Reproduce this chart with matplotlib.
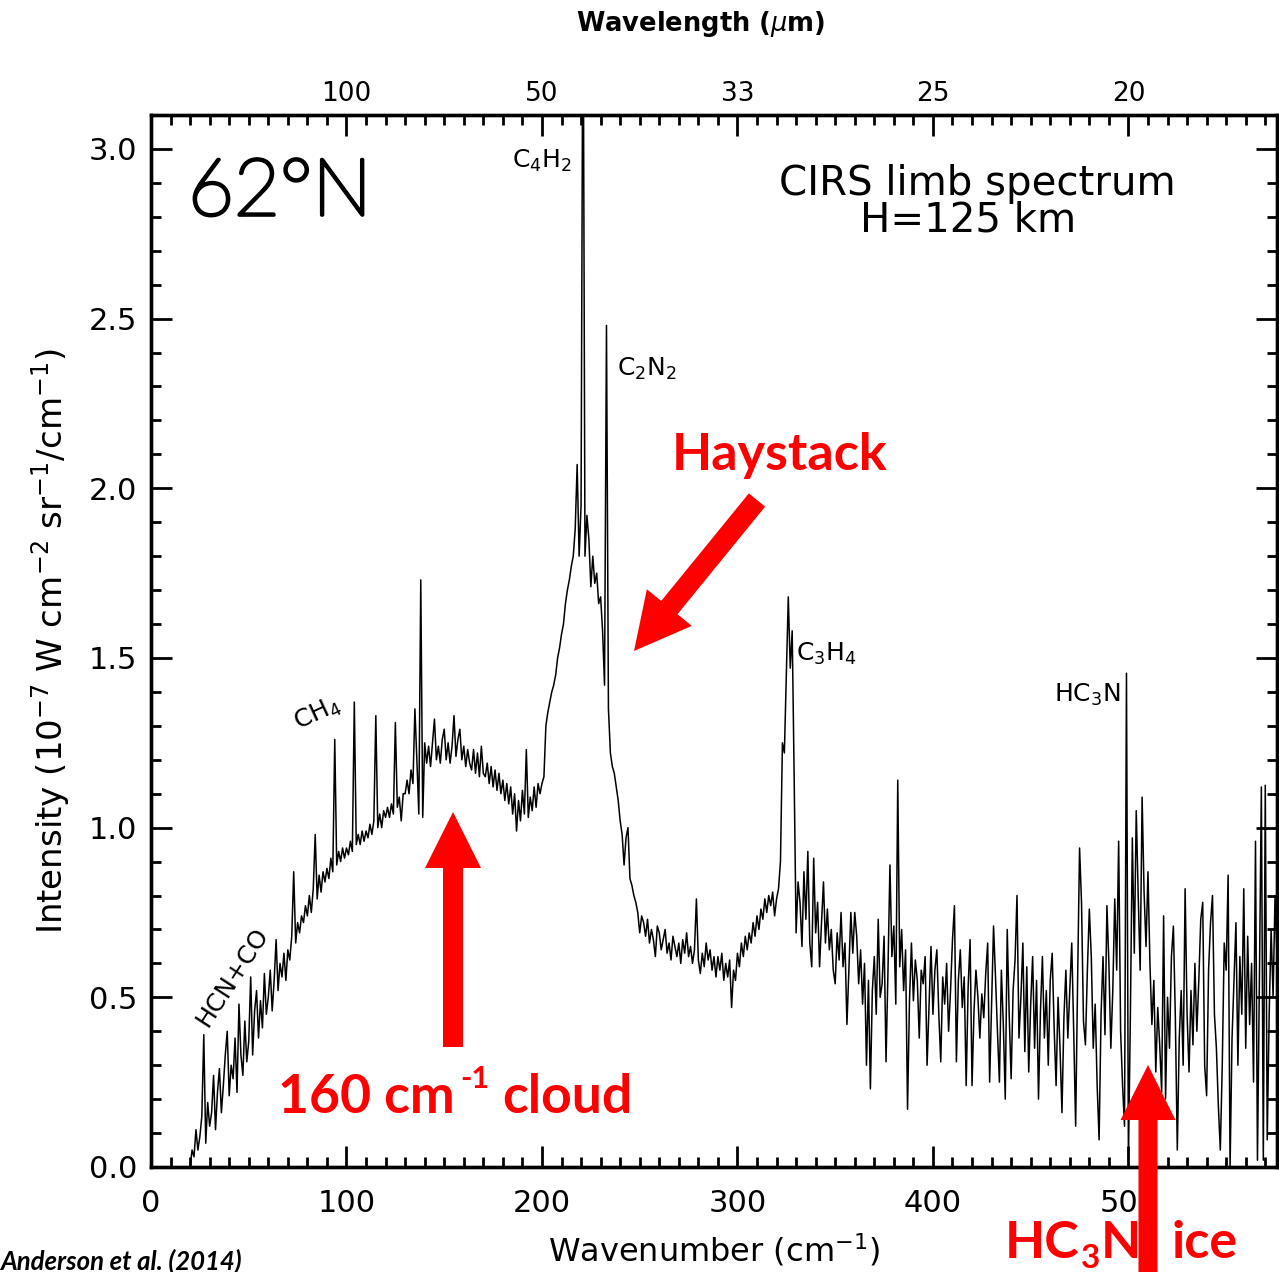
import numpy as np
import matplotlib
matplotlib.use("Agg")
import matplotlib.pyplot as plt
import matplotlib.patheffects as pe
from matplotlib.patches import FancyArrow
from matplotlib.ticker import MultipleLocator, FormatStrFormatter

# ---------------- data ----------------
# wavenumber grid 20..577 cm^-1, 1 cm^-1 sampling
wavenumber = np.arange(20, 578)

intensity = [
    # 20-29
    0.00, 0.05, 0.03, 0.11, 0.05, 0.09, 0.15, 0.39, 0.07, 0.19,
    # 30-39
    0.12, 0.16, 0.27, 0.11, 0.22, 0.29, 0.16, 0.24, 0.33, 0.40,
    # 40-49
    0.21, 0.30, 0.26, 0.38, 0.22, 0.48, 0.33, 0.27, 0.43, 0.31,
    # 50-59
    0.37, 0.56, 0.33, 0.46, 0.52, 0.38, 0.49, 0.41, 0.57, 0.45,
    # 60-69
    0.50, 0.58, 0.46, 0.55, 0.67, 0.52, 0.60, 0.56, 0.63, 0.55,
    # 70-79
    0.64, 0.61, 0.68, 0.87, 0.66, 0.72, 0.69, 0.74, 0.72, 0.77,
    # 80-89
    0.74, 0.80, 0.75, 0.82, 0.98, 0.79, 0.86, 0.81, 0.87, 0.84,
    # 90-99
    0.88, 0.85, 0.91, 0.87, 1.26, 0.89, 0.93, 0.90, 0.94, 0.91,
    # 100-109
    0.94, 0.92, 0.96, 0.93, 1.37, 0.95, 0.98, 0.95, 0.99, 0.96,
    # 110-119
    0.99, 0.97, 1.01, 0.98, 1.02, 1.33, 1.00, 1.04, 1.00, 1.05,
    # 120-129
    1.03, 1.06, 1.03, 1.07, 1.04, 1.31, 1.06, 1.09, 1.02, 1.10,
    # 130-139
    1.10, 1.14, 1.10, 1.17, 1.13, 1.35, 1.20, 1.04, 1.73, 1.03,
    # 140-149
    1.25, 1.19, 1.24, 1.18, 1.25, 1.32, 1.20, 1.24, 1.19, 1.26,
    # 150-159
    1.29, 1.20, 1.25, 1.19, 1.24, 1.33, 1.21, 1.26, 1.29, 1.20,
    # 160-169
    1.24, 1.18, 1.23, 1.19, 1.17, 1.23, 1.16, 1.22, 1.15, 1.24,
    # 170-179
    1.16, 1.15, 1.19, 1.13, 1.18, 1.12, 1.17, 1.11, 1.16, 1.10,
    # 180-189
    1.14, 1.08, 1.13, 1.07, 1.12, 1.04, 1.10, 0.99, 1.08, 1.02,
    # 190-199
    1.11, 1.04, 1.23, 1.03, 1.09, 1.05, 1.12, 1.06, 1.13, 1.10,
    # 200-209
    1.13, 1.15, 1.30, 1.34, 1.37, 1.40, 1.42, 1.45, 1.50, 1.53,
    # 210-219
    1.57, 1.60, 1.66, 1.70, 1.73, 1.77, 1.80, 1.88, 2.07, 1.80,
    # 220-229
    1.95, 3.60, 1.80, 1.92, 1.85, 1.71, 1.80, 1.72, 1.75, 1.66,
    # 230-239
    1.68, 1.58, 1.42, 2.48, 1.35, 1.22, 1.18, 1.16, 1.12, 1.08,
    # 240-249
    1.02, 0.98, 0.89, 0.97, 1.00, 0.85, 0.83, 0.80, 0.78, 0.75,
    # 250-259
    0.69, 0.74, 0.72, 0.68, 0.73, 0.66, 0.70, 0.67, 0.62, 0.71,
    # 260-269
    0.69, 0.64, 0.67, 0.70, 0.63, 0.66, 0.61, 0.68, 0.65, 0.62,
    # 270-279
    0.66, 0.60, 0.67, 0.63, 0.69, 0.62, 0.65, 0.60, 0.64, 0.79,
    # 280-289
    0.61, 0.57, 0.63, 0.59, 0.66, 0.61, 0.64, 0.58, 0.62, 0.56,
    # 290-299
    0.62, 0.58, 0.63, 0.55, 0.60, 0.56, 0.61, 0.47, 0.58, 0.55,
    # 300-309
    0.63, 0.59, 0.66, 0.62, 0.68, 0.64, 0.69, 0.66, 0.72, 0.68,
    # 310-319
    0.74, 0.70, 0.76, 0.73, 0.79, 0.75, 0.80, 0.77, 0.81, 0.74,
    # 320-329
    0.79, 0.82, 0.90, 1.25, 1.22, 1.45, 1.68, 1.47, 1.58, 1.15,
    # 330-339
    0.69, 0.84, 0.78, 0.65, 0.87, 0.73, 0.93, 0.66, 0.59, 0.91,
    # 340-349
    0.69, 0.78, 0.59, 0.72, 0.84, 0.66, 0.76, 0.64, 0.70, 0.58,
    # 350-359
    0.54, 0.69, 0.61, 0.75, 0.59, 0.66, 0.42, 0.58, 0.75, 0.63,
    # 360-369
    0.75, 0.68, 0.54, 0.64, 0.48, 0.60, 0.30, 0.55, 0.23, 0.52,
    # 370-379
    0.62, 0.45, 0.73, 0.50, 0.54, 0.68, 0.31, 0.58, 0.89, 0.62,
    # 380-389
    0.71, 0.48, 1.14, 0.59, 0.70, 0.52, 0.64, 0.17, 0.49, 0.66,
    # 390-399
    0.49, 0.61, 0.55, 0.38, 0.58, 0.54, 0.62, 0.30, 0.48, 0.65,
    # 400-409
    0.45, 0.58, 0.64, 0.45, 0.31, 0.56, 0.48, 0.60, 0.40, 0.52,
    # 410-419
    0.67, 0.77, 0.31, 0.55, 0.64, 0.47, 0.56, 0.24, 0.53, 0.67,
    # 420-429
    0.24, 0.46, 0.58, 0.50, 0.38, 0.51, 0.44, 0.57, 0.66, 0.25,
    # 430-439
    0.48, 0.71, 0.56, 0.40, 0.25, 0.58, 0.42, 0.20, 0.70, 0.45,
    # 440-449
    0.26, 0.52, 0.61, 0.80, 0.38, 0.50, 0.66, 0.34, 0.59, 0.28,
    # 450-459
    0.48, 0.62, 0.35, 0.55, 0.20, 0.46, 0.62, 0.38, 0.52, 0.30,
    # 460-469
    0.55, 0.63, 0.41, 0.24, 0.50, 0.35, 0.16, 0.44, 0.58, 0.38,
    # 470-479
    0.52, 0.66, 0.40, 0.12, 0.55, 0.94, 0.78, 0.43, 0.36, 0.58,
    # 480-489
    0.76, 0.62, 0.35, 0.48, 0.24, 0.08, 0.45, 0.62, 0.39, 0.77,
    # 490-499
    0.60, 0.35, 0.52, 0.79, 0.58, 0.96, 0.40, 0.24, 0.12, 1.455,
    # 500-509
    0.02, 0.45, 0.97, 0.63, 1.05, 0.80, 0.58, 1.09, 0.81, 0.65,
    # 510-519
    0.87, 0.60, 0.42, 0.55, 0.28, 0.47, 0.36, 0.22, 0.74, 0.20,
    # 520-529
    0.50, 0.35, 0.62, 0.71, 0.44, 0.05, 0.38, 0.52, 0.30, 0.82,
    # 530-539
    0.45, 0.28, 0.52, 0.36, 0.60, 0.40, 0.55, 0.73, 0.78, 0.30,
    # 540-549
    0.21, 0.58, 0.72, 0.80, 0.45, 0.35, 0.18, 0.05, 0.30, 0.66,
    # 550-559
    0.58, 0.86, 0.00, 0.38, 0.55, 0.72, 0.30, 0.62, 0.45, 0.82,
    # 560-569
    0.35, 0.68, 0.42, 0.60, 0.25, 0.96, 0.02, 0.55, 1.12, 0.02,
    # 570-577
    1.125, 0.08, 0.45, 0.70, 0.50, 0.80, 0.62, 0.88,
]

# top axis: wavelength labels at wavenumber positions
wavelength_positions = [100, 200, 300, 400, 500]
wavelength_labels = ["100", "50", "33", "25", "20"]

# ---------------- figure ----------------
W, H = 1279, 1272
fig = plt.figure(figsize=(W / 100, H / 100), dpi=100)
ax = fig.add_axes([151 / W, 105 / H, 1126 / W, 1052 / H])

ax.plot(wavenumber, intensity, color="black", lw=1.1)
ax.set_xlim(0, 576)
ax.set_ylim(0, 3.1)

ax.xaxis.set_major_locator(MultipleLocator(100))
ax.xaxis.set_minor_locator(MultipleLocator(10))
ax.yaxis.set_major_locator(MultipleLocator(0.5))
ax.yaxis.set_minor_locator(MultipleLocator(0.1))
ax.yaxis.set_major_formatter(FormatStrFormatter("%.1f"))

ax.tick_params(which="both", direction="in", top=False, right=True, width=2)
ax.tick_params(which="major", length=15, labelsize=22)
ax.tick_params(which="minor", length=7.5)
ax.tick_params(axis="x", pad=16)
ax.tick_params(axis="y", pad=10)
for sp in ax.spines.values():
    sp.set_linewidth(2.4)

ax.set_xlabel("Wavenumber (cm$^{-1}$)", fontsize=23, labelpad=10)
ax.set_ylabel("Intensity (10$^{-7}$ W cm$^{-2}$ sr$^{-1}$/cm$^{-1}$)",
              fontsize=24.5, labelpad=12)

ax2 = ax.twiny()
ax2.set_xlim(ax.get_xlim())
ax2.set_xticks(wavelength_positions)
ax2.set_xticklabels(wavelength_labels)
ax2.xaxis.set_minor_locator(MultipleLocator(10))
ax2.tick_params(which="both", direction="in", width=2)
ax2.tick_params(which="major", length=15, labelsize=19, pad=6)
ax2.tick_params(which="minor", length=7.5)
for sp in ax2.spines.values():
    sp.set_linewidth(2.4)
ax2.set_xlabel("Wavelength ($\\mu$m)", fontsize=18.5, fontweight="semibold",
               labelpad=36)
ax2.xaxis.label.set_x((701 - 151) / 1126)

# ---------------- annotation overlay in pixel units ----------------
ov = fig.add_axes([0, 0, 1, 1])
ov.set_xlim(0, W)
ov.set_ylim(H, 0)
ov.axis("off")

ov.text(188, 215, "62°N", fontsize=57, fontweight="light",
        family=["Lato", "DejaVu Sans"], ha="left", va="baseline",
        path_effects=[pe.withStroke(linewidth=2.6, foreground="black")])
ov.text(977, 195, "CIRS limb spectrum", fontsize=29, ha="center", va="baseline")
ov.text(968, 232, "H=125 km", fontsize=29, ha="center", va="baseline")

lab = dict(fontsize=18, va="baseline")
ov.text(512, 168, "C$_4$H$_2$", ha="left", **lab)
ov.text(617, 376, "C$_2$N$_2$", ha="left", **lab)
ov.text(796, 661, "C$_3$H$_4$", ha="left", **lab)
ov.text(1121, 702, "HC$_3$N", ha="right", **lab)
ov.text(317, 714, "CH$_4$", fontsize=18, ha="center", va="center",
        rotation=25, rotation_mode="anchor")
ov.text(232, 977, "HCN+CO", fontsize=18, ha="center", va="center",
        rotation=57, rotation_mode="anchor")

red = "#ff0000"
rfont = ["Lato", "DejaVu Sans"]
big = 37.5

# arrows
ov.add_patch(FancyArrow(453, 1047, 0, -235, width=20, head_width=56,
                        head_length=56, length_includes_head=True,
                        color=red, lw=0))
ov.add_patch(FancyArrow(757, 500, -123, 151, width=21, head_width=58,
                        head_length=56, length_includes_head=True,
                        color=red, lw=0))
ov.add_patch(FancyArrow(1148, 1290, 0, -225, width=19, head_width=55,
                        head_length=55, length_includes_head=True,
                        color=red, lw=0))

ov.text(672, 470, "Haystack", fontsize=big, fontweight="bold", color=red,
        family=rfont, ha="left", va="baseline")

renderer = fig.canvas.get_renderer()


def seq(x, y, parts):
    for s, size, dy, gap in parts:
        t = ov.text(x, y + dy, s, fontsize=size, fontweight="bold", color=red,
                    family=rfont, ha="left", va="baseline")
        x += t.get_window_extent(renderer).width + gap


seq(278, 1113, [("160 cm", 38.5, 0, 5), ("-1", 22, -25, 13), ("cloud", 38.5, 0, 0)])
seq(1005, 1258, [("HC", big, 0, 1), ("3", 24, 10, 1), ("N", big, 0, 0)])
ov.text(1172, 1258, "ice", fontsize=big, fontweight="bold", color=red,
        family=rfont, ha="left", va="baseline")

ov.text(0, 1270, "Anderson et al. (2014)", fontsize=18.5, fontweight="bold",
        style="italic", family=rfont, ha="left", va="baseline")

fig.savefig("out.png", dpi=100)
